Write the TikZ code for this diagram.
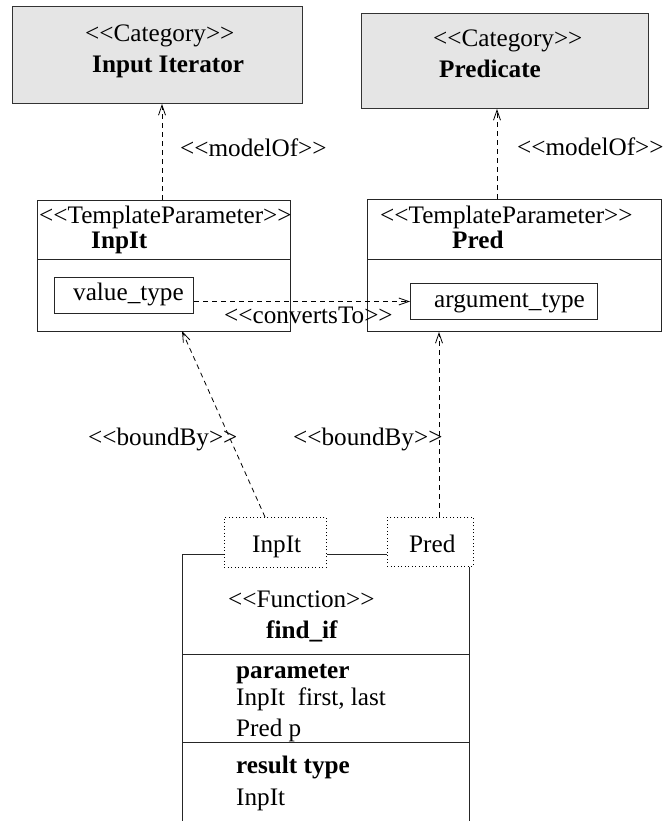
\documentclass[tikz,border=0pt]{standalone}
\usepackage{fontspec}
\setmainfont{Liberation Serif}[Ligatures=TeXOff]
\usetikzlibrary{arrows.meta}
\begin{document}
\begin{tikzpicture}[x=1pt,y=-1pt,
  txt/.style={inner sep=0pt, anchor=base west, font=\fontsize{25.2}{30}\selectfont},
  btxt/.style={inner sep=0pt, anchor=base west, font=\fontsize{25.2}{30}\selectfont\bfseries},
  catbox/.style={draw=black!80, fill=black!10, line width=1pt, anchor=north west, inner sep=0pt},
  plainbox/.style={draw=black!85, line width=1pt, anchor=north west, inner sep=0pt},
  pinbox/.style={draw, line width=0.9pt, dash pattern=on 1pt off 2.5pt, anchor=north west, inner sep=0pt},
  boxline/.style={draw=black!85, line width=1pt},
  dep/.style={draw, line width=0.8pt, dash pattern=on 5pt off 4pt, -{Straight Barb[length=10pt,width=7pt]}}]
\useasboundingbox (0,0) rectangle (664,821);

% category boxes
\node[catbox, minimum width=290pt, minimum height=97pt] (cat1) at (12,6) {};
\node[catbox, minimum width=287pt, minimum height=95pt] (cat2) at (361,13) {};
\node[txt] (cat1s) at (85,42) {<<Category>>};
\node[btxt] (cat1n) at (92,73) {Input Iterator};
\node[txt] (cat2s) at (433,47) {<<Category>>};
\node[btxt] (cat2n) at (439,78) {Predicate};

% template parameter boxes
\node[plainbox, minimum width=253pt, minimum height=131pt] (tp1) at (37,200) {};
\node[plainbox, minimum width=294pt, minimum height=132pt] (tp2) at (367,199) {};
\coordinate (d1) at (0,259);
\draw[boxline] (tp1.west |- d1) -- (tp1.east |- d1);
\draw[boxline] (tp2.west |- d1) -- (tp2.east |- d1);
\node[txt] (tp1s) at (39,223) {<<TemplateParameter>>};
\node[btxt] (tp1n) at (91,248) {InpIt};
\node[txt] (tp2s) at (380,223) {<<TemplateParameter>>};
\node[btxt] (tp2n) at (452,248) {Pred};

% attribute boxes
\node[plainbox, minimum width=139pt, minimum height=36pt] (vt) at (54,277) {};
\node[txt] (vtt) at (73,300) {value\_type};
\node[plainbox, minimum width=187pt, minimum height=36pt] (at) at (410,283) {};
\node[txt] (att) at (434,307) {argument\_type};

% modelOf connectors
\coordinate (mo1) at (162,200);
\coordinate (mo2) at (497,199);
\draw[dep] (mo1) -- (mo1 |- cat1.south);
\draw[dep] (mo2) -- (mo2 |- cat2.south);
\node[txt] (mol1) at (180,157) {<<modelOf>>};
\node[txt] (mol2) at (517,156) {<<modelOf>>};

% convertsTo
\draw[dep] (at.west -| vt.east) -- (at.west);
\node[txt] (cvl) at (224,323) {<<convertsTo>>};

% pins
\node[pinbox, minimum width=102pt, minimum height=50pt] (pin1) at (224,517) {};
\node[pinbox, minimum width=86pt, minimum height=49pt] (pin2) at (387,517) {};
\node[txt] (pin1t) at (252,552) {InpIt};
\node[txt] (pin2t) at (409,552) {Pred};

% boundBy connectors
\coordinate (bb1s) at (265,517);
\coordinate (bb1e) at (182,331);
\coordinate (bb2s) at (439,517);
\draw[dep] (bb1s) -- (bb1e);
\draw[dep] (bb2s) -- (bb2s |- tp2.south);
\node[txt] (bbl1) at (88,445) {<<boundBy>>};
\node[txt] (bbl2) at (293,445) {<<boundBy>>};

% function box
\coordinate (fTL) at (182,554);
\coordinate (fBL) at (182,821);
\coordinate (fBR) at (469,821);
\coordinate (fd1) at (182,654);
\coordinate (fd2) at (182,742);
\draw[boxline] (fBL) -- (fTL) -- (fTL -| pin1.west);
\draw[boxline] (pin1.east |- fTL) -- (pin2.west |- fTL);
\draw[boxline] (fBR |- pin2.south) -- (fBR);
\draw[boxline] (fd1) -- (fd1 -| fBR);
\draw[boxline] (fd2) -- (fd2 -| fBR);
\node[txt] (fs) at (228,607) {<<Function>>};
\node[btxt] (fn) at (266,638) {find\_if};
\node[btxt] (fp) at (236,678) {parameter};
\node[txt] (fp1) at (236,705) {InpIt\ \ first, last};
\node[txt] (fp2) at (236,736) {Pred p};
\node[btxt] (fr) at (236,773) {result type};
\node[txt] (fr1) at (236,805) {InpIt};
\end{tikzpicture}
\end{document}
